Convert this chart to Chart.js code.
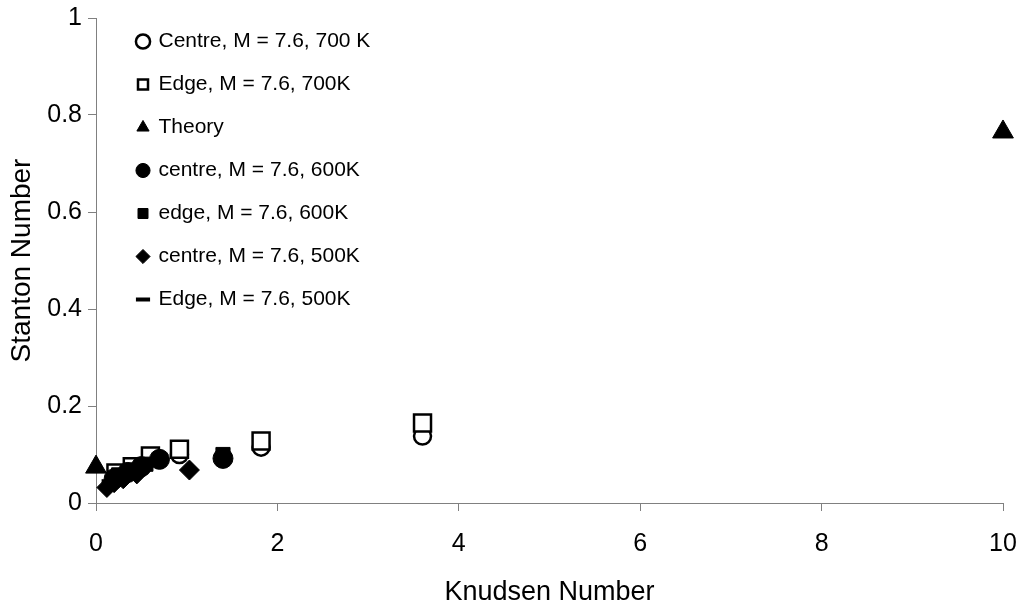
<!DOCTYPE html>
<html>
<head>
<meta charset="utf-8">
<script src="https://cdn.jsdelivr.net/npm/chart.js@4"></script>
<style>
  html, body { margin: 0; padding: 0; background: #fff; }
  #wrap { width: 1024px; height: 609px; }
</style>
</head>
<body>
<div id="wrap"><canvas id="chart"></canvas></div>
<script>
// values, [Knudsen, Stanton]
const centre700 = [[0.6, 0.092], [0.92, 0.1], [1.82, 0.115], [3.6, 0.138]];
const edge700 = [[0.22, 0.062], [0.4, 0.075], [0.6, 0.097], [0.92, 0.111], [1.82, 0.128], [3.6, 0.165]];
const theory = [[0, 0.074], [10, 0.765]];
const centre600 = [[0.2, 0.05], [0.35, 0.063], [0.5, 0.075], [0.7, 0.09], [1.4, 0.092]];
const edge600 = [[0.25, 0.058], [0.4, 0.068], [0.55, 0.08], [1.4, 0.1]];
const centre500 = [[0.12, 0.032], [0.2, 0.042], [0.3, 0.05], [0.45, 0.06], [1.03, 0.068]];
const edge500 = [[0.15, 0.045], [0.25, 0.055], [0.4, 0.065]];

const seriesNames = [
  'Centre, M = 7.6, 700 K',
  'Edge, M = 7.6, 700K',
  'Theory',
  'centre, M = 7.6, 600K',
  'edge, M = 7.6, 600K',
  'centre, M = 7.6, 500K',
  'Edge, M = 7.6, 500K'
];
const xTicks = [0, 2, 4, 6, 8, 10];
const yTicks = [0, 0.2, 0.4, 0.6, 0.8, 1];

const toPts = arr => arr.map(p => ({ x: p[0], y: p[1] }));
const font = 'Liberation Sans, Arial, sans-serif';

const styles = [
  { pointStyle: 'circle', pointRadius: 8.5, pointBackgroundColor: '#fff', pointBorderWidth: 2.5 },
  { pointStyle: 'rect', pointRadius: 12, pointBackgroundColor: '#fff', pointBorderWidth: 2.5 },
  { pointStyle: 'triangle', pointRadius: 12, pointBackgroundColor: '#000', pointBorderWidth: 1 },
  { pointStyle: 'circle', pointRadius: 10, pointBackgroundColor: '#000', pointBorderWidth: 1 },
  { pointStyle: 'rect', pointRadius: 10, pointBackgroundColor: '#000', pointBorderWidth: 1 },
  { pointStyle: 'rectRot', pointRadius: 10, pointBackgroundColor: '#000', pointBorderWidth: 1 },
  { pointStyle: 'line', pointRadius: 8, pointBackgroundColor: '#000', pointBorderWidth: 4 }
];

const allSeries = [centre700, edge700, theory, centre600, edge600, centre500, edge500];

const datasets = allSeries.map((s, i) => Object.assign({
  label: seriesNames[i],
  data: toPts(s),
  pointBorderColor: '#000',
  showLine: false,
  clip: false,
  order: -i
}, styles[i]));

// nudge the legend box to where the original sits
const legendShift = {
  id: 'legendShift',
  afterLayout(chart) {
    chart.legend.left += 20;
    chart.legend.top += 9;
  }
};

new Chart(document.getElementById('chart'), {
  type: 'scatter',
  data: { datasets: datasets },
  plugins: [legendShift],
  options: {
    responsive: true,
    maintainAspectRatio: false,
    animation: false,
    layout: { autoPadding: false, padding: { top: 18, right: 21, left: 0, bottom: 0 } },
    plugins: {
      tooltip: { enabled: false },
      legend: {
        position: 'chartArea',
        align: 'start',
        labels: {
          usePointStyle: true,
          boxWidth: 10,
          boxHeight: 10,
          padding: 22,
          color: '#000',
          font: { family: font, size: 21 },
          sort: (a, b) => a.datasetIndex - b.datasetIndex
        }
      }
    },
    scales: {
      x: {
        type: 'linear',
        min: 0,
        max: 10,
        afterBuildTicks: s => { s.ticks = xTicks.map(v => ({ value: v })); },
        afterFit: s => { s.height = 106; s.paddingLeft = 0; s.paddingRight = 0; },
        grid: { drawOnChartArea: false, color: '#808080', tickLength: 8 },
        border: { color: '#808080' },
        ticks: { color: '#000', padding: 18, font: { family: font, size: 25 }, callback: v => String(v) },
        title: { display: true, text: 'Knudsen Number', color: '#000', font: { family: font, size: 27 }, padding: { top: 4, bottom: 0 } }
      },
      y: {
        type: 'linear',
        min: 0,
        max: 1,
        afterBuildTicks: s => { s.ticks = yTicks.map(v => ({ value: v })); },
        afterFit: s => { s.width = 96; s.paddingTop = 0; s.paddingBottom = 0; },
        grid: { drawOnChartArea: false, color: '#808080', tickLength: 8 },
        border: { color: '#808080' },
        ticks: { color: '#000', padding: 6, font: { family: font, size: 25 }, callback: v => String(v) },
        title: { display: true, text: 'Stanton Number', color: '#000', font: { family: font, size: 28 }, padding: { top: 5, bottom: 0 } }
      }
    }
  }
});
</script>
</body>
</html>
